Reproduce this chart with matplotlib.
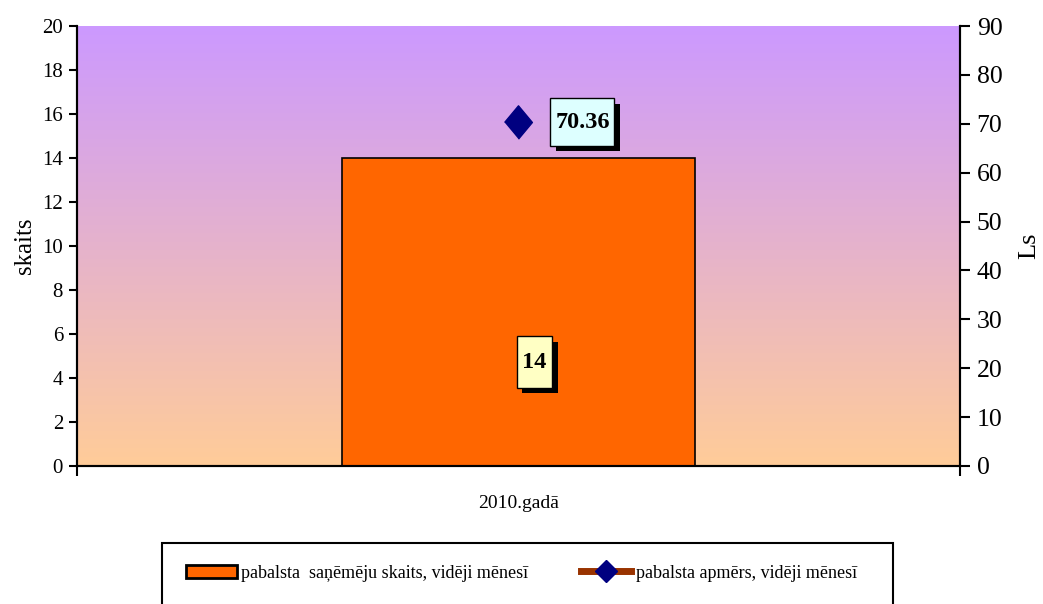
import numpy as np
import matplotlib
matplotlib.use('Agg')
import matplotlib.pyplot as plt
import matplotlib.patheffects as pe
from matplotlib.path import Path
from matplotlib.patches import Rectangle, Patch
from matplotlib.lines import Line2D
from matplotlib.colors import LinearSegmentedColormap

plt.rcParams['font.family'] = ['Liberation Serif', 'DejaVu Serif']

# data
categories = ['2010.gadā']
recipients = [14]          # pabalsta saņēmēju skaits (left axis)
amount = [70.36]           # pabalsta apmērs, Ls (right axis)
bar_label = 'pabalsta  saņēmēju skaits, vidēji mēnesī'
line_label = 'pabalsta apmērs, vidēji mēnesī'


def tall_box(x0, y0, width, height, mutation_size, padx=0.2, pady=0.55):
    # square box with more vertical than horizontal padding
    px, py = padx * mutation_size, pady * mutation_size
    x0, y0 = x0 - px, y0 - py
    x1, y1 = x0 + width + 2 * px, y0 + height + 2 * py
    return Path([(x0, y0), (x1, y0), (x1, y1), (x0, y1), (x0, y0)],
                [Path.MOVETO, Path.LINETO, Path.LINETO, Path.LINETO, Path.CLOSEPOLY])


fig = plt.figure(figsize=(10.43, 6.04), dpi=100)
ax = fig.add_axes([77 / 1043, 1 - 466 / 604, 883 / 1043, 440 / 604])
ax2 = ax.twinx()

# gradient background
cmap = LinearSegmentedColormap.from_list('bg', ['#FFCC99', '#CC99FF'])
grad = np.linspace(0, 1, 256).reshape(-1, 1)
ax.imshow(grad, cmap=cmap, aspect='auto', origin='lower',
          extent=[-0.5, 0.5, 0, 20], zorder=0)

x = np.arange(len(categories))
ax.bar(x, recipients, width=0.4, color='#FF6600', edgecolor='black', lw=1.2, zorder=2)
ax2.plot(x, amount, ls='none', marker=[(0, -1.2), (1, 0), (0, 1.2), (-1, 0)],
         ms=24, color='#000080', zorder=3)

ax.set_xlim(-0.5, 0.5)
ax.set_ylim(0, 20)
ax2.set_ylim(0, 90)
ax.set_yticks(np.arange(0, 21, 2))
ax2.set_yticks(np.arange(0, 91, 10))
ax.set_xticks(x)
ax.set_xticklabels(categories, fontsize=14)
ax.set_xticks([-0.5, 0.5], minor=True)
ax.tick_params(axis='x', which='major', length=0, pad=21)
ax.tick_params(axis='x', which='minor', length=7, width=1.5, direction='out')
ax.tick_params(axis='y', length=6, width=1.5, direction='out', labelsize=15, pad=4)
ax2.tick_params(axis='y', length=7, width=1.5, direction='out', labelsize=18.5, pad=5)

for a in (ax, ax2):
    a.spines['top'].set_visible(False)
    for s in ('left', 'right', 'bottom'):
        a.spines[s].set_linewidth(1.5)

ax.set_ylabel('skaits', fontsize=18)
ax.yaxis.set_label_coords(-0.046, 0.5)
ax2.set_ylabel('Ls', fontsize=19)
ax2.yaxis.set_label_coords(1.066, 0.5)

# value labels with shadowed boxes
shadow = [pe.withSimplePatchShadow(offset=(4, -4), shadow_rgbFace='black', alpha=1)]
t1 = ax2.annotate(f'{amount[0]:.2f}', xy=(x[0], amount[0]), xytext=(46, 0),
                  textcoords='offset points', ha='center', va='center',
                  fontsize=17.5, fontweight='bold', zorder=5,
                  bbox=dict(boxstyle=tall_box, fc='#DDFFFF', ec='black', lw=1))
t2 = ax.annotate(f'{recipients[0]}', xy=(x[0], recipients[0] / 2), xytext=(11.5, -36),
                 textcoords='offset points', ha='center', va='center',
                 fontsize=17.5, fontweight='bold', zorder=5,
                 bbox=dict(boxstyle=lambda *a: tall_box(*a, padx=0.22, pady=0.62),
                           fc='#FFFFC4', ec='black', lw=1))
for t in (t1, t2):
    t.get_bbox_patch().set_path_effects(shadow)

# legend
fig.patches.append(Rectangle((162 / 1043, -0.05), 731 / 1043, 0.05 + 1 - 543 / 604,
                             transform=fig.transFigure, fc='white', ec='black', lw=1.5))
handles = [Patch(fc='#FF6600', ec='black', lw=2),
           Line2D([], [], color='#993300', lw=5, marker='D', ms=11,
                  mfc='#000080', mec='#000080')]
fig.legend(handles, [bar_label, line_label], loc='center left',
           bbox_to_anchor=(170 / 1043, 1 - 573 / 604), ncol=2, frameon=False,
           fontsize=13, handlelength=2.8, handletextpad=0.25, columnspacing=2.9)

fig.savefig('out.png', dpi=100)
